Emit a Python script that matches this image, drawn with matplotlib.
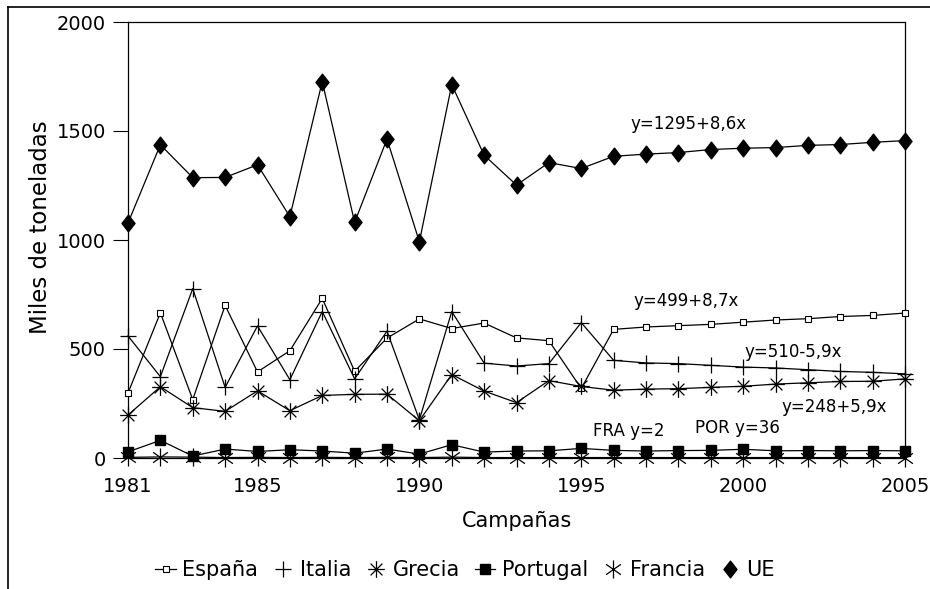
import numpy as np
import matplotlib
matplotlib.use("Agg")
import matplotlib.pyplot as plt
from matplotlib.path import Path
from matplotlib.lines import Line2D

# ---------------- data (miles de toneladas) ----------------
years = list(range(1981, 2006))
espana = [298, 666, 268, 700, 395, 492, 732, 398, 550, 638, 594, 619, 551,
          538, 319, 590, 601, 607, 613, 623, 633, 639, 649, 654, 665]
italia = [560, 373, 777, 324, 606, 359, 672, 363, 582, 175, 672, 435, 422,
          433, 621, 448, 436, 433, 425, 417, 413, 405, 397, 393, 386]
grecia = [197, 327, 231, 214, 308, 217, 287, 292, 293, 171, 383, 307, 254,
          355, 328, 311, 316, 318, 324, 329, 339, 345, 351, 352, 363]
portugal = [28, 81, 9, 41, 30, 38, 32, 22, 41, 18, 61, 27, 32,
            33, 44, 35, 32, 34, 35, 40, 33, 34, 33, 34, 33]
francia = [3, 5, 4, 2, 3, 2, 3, 2, 3, 2, 4, 2, 2,
           2, 2, 2, 2, 2, 2, 2, 2, 2, 2, 2, 2]
ue = [1078, 1437, 1286, 1287, 1345, 1107, 1727, 1081, 1463, 992, 1713, 1389, 1252,
      1355, 1328, 1384, 1394, 1401, 1415, 1421, 1424, 1434, 1438, 1448, 1456]

series_labels = ["España", "Italia", "Grecia", "Portugal", "Francia", "UE"]
x_ticks = [1981, 1985, 1990, 1995, 2000, 2005]
y_ticks = [0, 500, 1000, 1500, 2000]
x_label = "Campañas"
y_label = "Miles de toneladas"
trend_texts = ["y=1295+8,6x", "y=499+8,7x", "y=510-5,9x", "y=248+5,9x",
               "FRA y=2", "POR y=36"]

# ---------------- markers ----------------
def spokes(angles):
    verts, codes = [], []
    for a in angles:
        r = np.deg2rad(a)
        verts += [(np.cos(r), np.sin(r)), (-np.cos(r), -np.sin(r))]
        codes += [Path.MOVETO, Path.LINETO]
    return Path(verts, codes)

m_grecia = spokes([0, 45, 90, 135])
m_francia = spokes([90, 35, 145])
m_diamond = Path([(0, 1), (0.78, 0), (0, -1), (-0.78, 0), (0, 1)],
                 [Path.MOVETO, Path.LINETO, Path.LINETO, Path.LINETO, Path.CLOSEPOLY])

# ---------------- figure ----------------
fig = plt.figure(figsize=(9.3, 5.89), dpi=100)
ax = fig.add_axes([128 / 930, 1 - 458 / 589, 777 / 930, 436 / 589])

lw = 0.9
styles = [
    dict(marker="s", ms=4.5, mfc="white", mec="black", mew=0.8),
    dict(marker="+", ms=12, mew=0.9),
    dict(marker=m_grecia, ms=12, mfc="none", mew=0.9),
    dict(marker="s", ms=7, mfc="black", mec="black"),
    dict(marker=m_francia, ms=13, mfc="none", mew=0.9),
    dict(marker=m_diamond, ms=12, mfc="black", mec="black"),
]
legend_has_line = [True, False, False, True, False, False]
data = [espana, italia, grecia, portugal, francia, ue]
handles = []
for i, (vals, st, lab, hl) in enumerate(zip(data, styles, series_labels, legend_has_line)):
    ax.plot(years, vals, color="black", lw=lw, label=lab,
            clip_on=False, zorder=3 + i, **st)
    handles.append(Line2D([], [], color="black", lw=lw if hl else 0,
                          linestyle="-" if hl else "none", **st))

ax.set_xlim(1981, 2005)
ax.set_ylim(0, 2000)
ax.set_xticks(x_ticks)
ax.set_yticks(y_ticks)
ax.tick_params(axis="x", length=0, pad=14, labelsize=14)
ax.tick_params(axis="y", length=11, width=0.8, direction="out", pad=5, labelsize=14)
for sp in ax.spines.values():
    sp.set_linewidth(0.9)

ax.set_xlabel(x_label, fontsize=15)
ax.xaxis.set_label_coords((517 - 128) / 777, (458 - 511) / 436)
ax.set_ylabel(y_label, fontsize=16.5)
ax.yaxis.set_label_coords((52 - 128) / 777, (458 - 227) / 436)

# trend annotations (axes fraction positions)
ann_pos = [(0.722, 0.767), (0.718, 0.361), (0.856, 0.243), (0.909, 0.116),
           (0.644, 0.062), (0.784, 0.068)]
for t, (xa, ya) in zip(trend_texts, ann_pos):
    ax.text(xa, ya, t, transform=ax.transAxes, ha="center", va="center", fontsize=12)

fig.legend(handles, series_labels, loc="center",
           bbox_to_anchor=(465 / 930, 1 - 570 / 589), ncol=6, frameon=False,
           fontsize=15, handlelength=1.0, handletextpad=0.3, columnspacing=0.7,
           borderpad=0.2)

# page frame lines from the scanned document
fig.add_artist(Line2D([8 / 930, 1.0], [1 - 7 / 589, 1 - 7 / 589], color="black", lw=1.2))
fig.add_artist(Line2D([8 / 930, 8 / 930], [1 - 7 / 589, 0.0], color="black", lw=1.2))

fig.savefig("out.png", dpi=100)
